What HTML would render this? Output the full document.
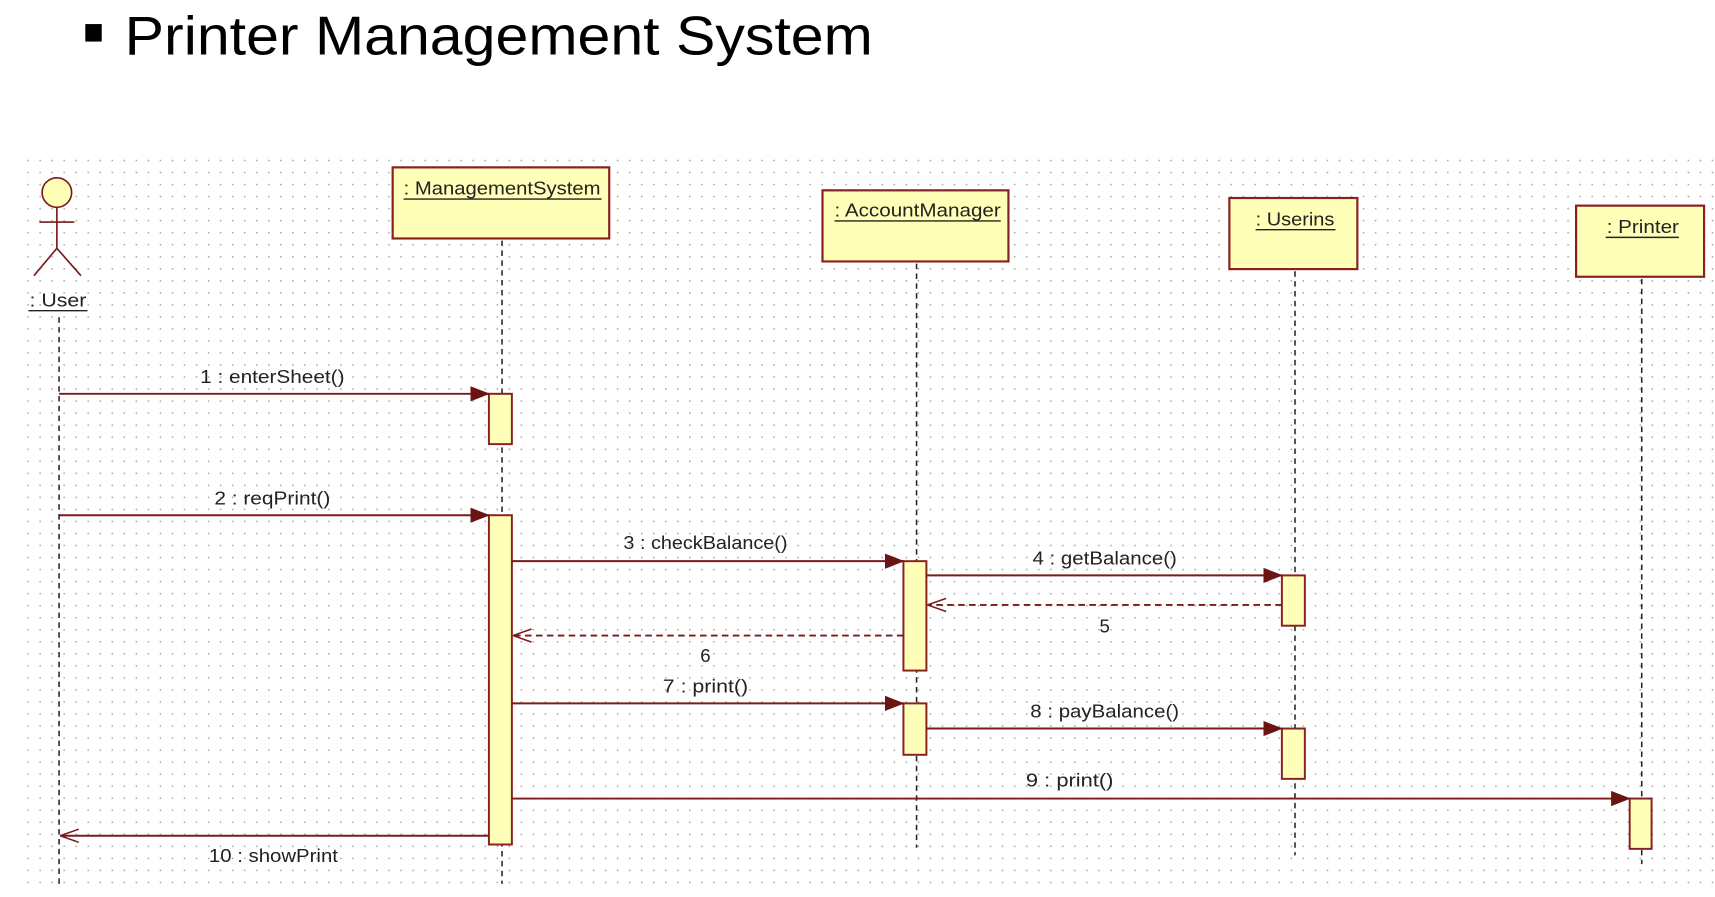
<!DOCTYPE html>
<html><head><meta charset="utf-8"><style>
html,body{margin:0;padding:0;background:#fff;}
svg{display:block;}
</style></head><body>
<svg width="1715" height="897" viewBox="0 0 1568 820" preserveAspectRatio="none" xmlns="http://www.w3.org/2000/svg">
<defs>
<pattern id="dots" x="25" y="146" width="11" height="11" patternUnits="userSpaceOnUse">
<rect x="0" y="0" width="1.4" height="1.4" fill="#a8a8a8"/>
</pattern>
<marker id="fa" markerWidth="18" markerHeight="14" refX="17" refY="7" orient="auto" markerUnits="userSpaceOnUse">
<path d="M0,0 L18,7 L0,14 Z" fill="#6b1414"/>
</marker>
<marker id="oa" markerWidth="20" markerHeight="14" refX="18" refY="7" orient="auto" markerUnits="userSpaceOnUse">
<path d="M18,7 L1,1 M18,7 L1,13" stroke="#7a1a1a" stroke-width="1.4" fill="none"/>
</marker>
</defs>
<rect x="0" y="0" width="1568" height="820" fill="#fff"/>
<rect x="25" y="145" width="1543" height="668" fill="url(#dots)"/>

<rect x="78" y="22" width="15" height="16" fill="#000"/>
<text x="114" y="50" font-family="Liberation Sans, sans-serif" font-size="50" fill="#000" textLength="684" lengthAdjust="spacingAndGlyphs">Printer Management System</text>

<g stroke="#222" stroke-width="1.4" stroke-dasharray="5,4" fill="none">
<line x1="54" y1="290" x2="54" y2="808"/>
<line x1="459" y1="220" x2="459" y2="808"/>
<line x1="838" y1="241" x2="838" y2="775"/>
<line x1="1184" y1="248" x2="1184" y2="782"/>
<line x1="1501" y1="255" x2="1501" y2="790"/>
</g>

<g stroke="#7a1a1a" stroke-width="1.5" fill="none">
<circle cx="52" cy="176" r="13.5" fill="#ffffb8"/>
<line x1="52" y1="190" x2="52" y2="227"/>
<line x1="36" y1="203" x2="68" y2="203"/>
<line x1="52" y1="227" x2="31" y2="252"/>
<line x1="52" y1="227" x2="74" y2="252"/>
</g>

<g font-family="Liberation Sans, sans-serif" font-size="17" fill="#222">
<text x="53" y="280" text-anchor="middle" textLength="52" lengthAdjust="spacingAndGlyphs">: User</text>
<line x1="26" y1="284" x2="80" y2="284" stroke="#222" stroke-width="1.3"/>
</g>

<g stroke="#8b2020" stroke-width="2" fill="#ffffb8">
<rect x="359" y="153" width="198" height="65"/>
<rect x="752" y="174" width="170" height="65"/>
<rect x="1124" y="181" width="117" height="65"/>
<rect x="1441" y="188" width="117" height="65"/>
</g>
<g font-family="Liberation Sans, sans-serif" font-size="17" fill="#222" text-anchor="middle">
<text x="459" y="178" textLength="180" lengthAdjust="spacingAndGlyphs">: ManagementSystem</text>
<line x1="369" y1="182" x2="550" y2="182" stroke="#222" stroke-width="1.3"/>
<text x="839" y="198" textLength="152" lengthAdjust="spacingAndGlyphs">: AccountManager</text>
<line x1="763" y1="202" x2="915" y2="202" stroke="#222" stroke-width="1.3"/>
<text x="1184" y="206" textLength="72" lengthAdjust="spacingAndGlyphs">: Userins</text>
<line x1="1148" y1="210" x2="1221" y2="210" stroke="#222" stroke-width="1.3"/>
<text x="1502" y="213" textLength="66" lengthAdjust="spacingAndGlyphs">: Printer</text>
<line x1="1468" y1="217" x2="1535" y2="217" stroke="#222" stroke-width="1.3"/>
</g>

<g stroke="#8b2020" stroke-width="1.8" fill="#ffffb8">
<rect x="447" y="360" width="21" height="46"/>
<rect x="447" y="471" width="21" height="301"/>
<rect x="826" y="513" width="21" height="100"/>
<rect x="826" y="643" width="21" height="47"/>
<rect x="1172" y="526" width="21" height="46"/>
<rect x="1172" y="666" width="21" height="46"/>
<rect x="1490" y="730" width="20" height="46"/>
</g>

<g stroke="#7a1a1a" stroke-width="1.8" fill="none">
<line x1="54" y1="360" x2="447" y2="360" marker-end="url(#fa)"/>
<line x1="54" y1="471" x2="447" y2="471" marker-end="url(#fa)"/>
<line x1="468" y1="513" x2="826" y2="513" marker-end="url(#fa)"/>
<line x1="847" y1="526" x2="1172" y2="526" marker-end="url(#fa)"/>
<line x1="1172" y1="553" x2="848" y2="553" stroke-dasharray="6,4" marker-end="url(#oa)"/>
<line x1="826" y1="581" x2="469" y2="581" stroke-dasharray="6,4" marker-end="url(#oa)"/>
<line x1="468" y1="643" x2="826" y2="643" marker-end="url(#fa)"/>
<line x1="847" y1="666" x2="1172" y2="666" marker-end="url(#fa)"/>
<line x1="468" y1="730" x2="1490" y2="730" marker-end="url(#fa)"/>
<line x1="447" y1="764" x2="55" y2="764" marker-end="url(#oa)"/>
</g>

<g font-family="Liberation Sans, sans-serif" font-size="17" fill="#222" text-anchor="middle">
<text x="249" y="350" textLength="132" lengthAdjust="spacingAndGlyphs">1 : enterSheet()</text>
<text x="249" y="461" textLength="106" lengthAdjust="spacingAndGlyphs">2 : reqPrint()</text>
<text x="645" y="502" textLength="150" lengthAdjust="spacingAndGlyphs">3 : checkBalance()</text>
<text x="1010" y="516" textLength="132" lengthAdjust="spacingAndGlyphs">4 : getBalance()</text>
<text x="1010" y="578">5</text>
<text x="645" y="605">6</text>
<text x="645" y="633" textLength="78" lengthAdjust="spacingAndGlyphs">7 : print()</text>
<text x="1010" y="656" textLength="136" lengthAdjust="spacingAndGlyphs">8 : payBalance()</text>
<text x="978" y="719" textLength="80" lengthAdjust="spacingAndGlyphs">9 : print()</text>
<text x="250" y="788" textLength="118" lengthAdjust="spacingAndGlyphs">10 : showPrint</text>
</g>
</svg>
</body></html>
